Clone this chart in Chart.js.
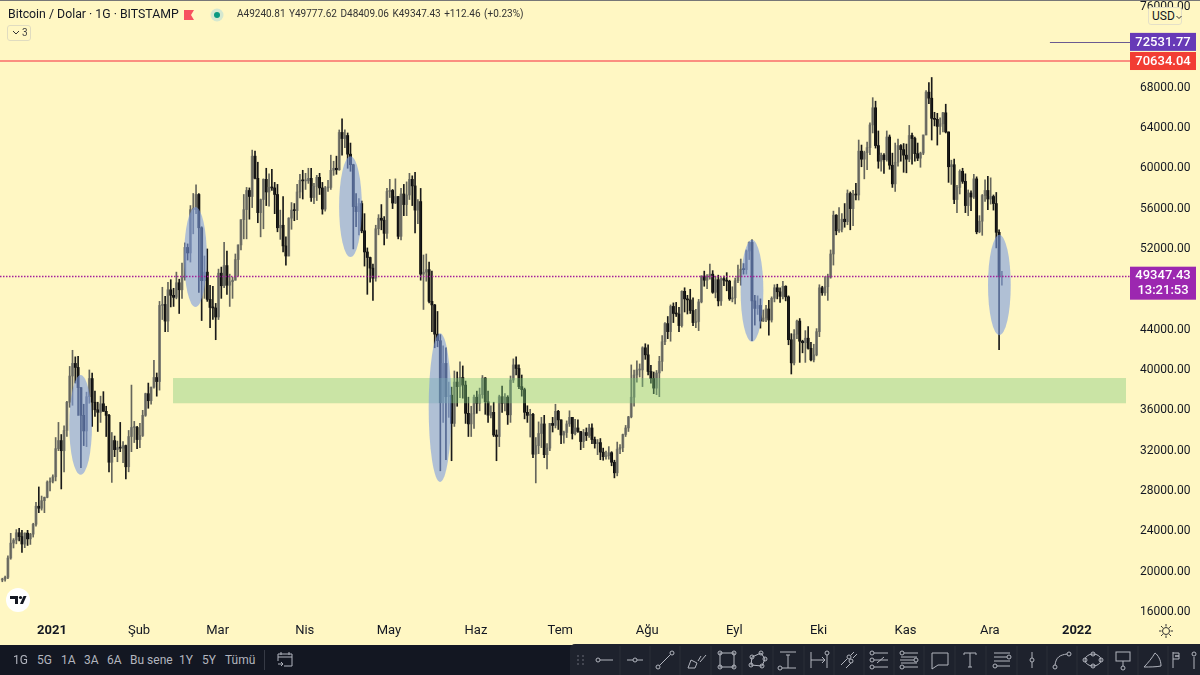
<!DOCTYPE html>
<html lang="tr">

<head>
    <meta charset="UTF-8">
    <title>Bitcoin / Dolar</title>
    <script src="https://cdn.jsdelivr.net/npm/chart.js@4/dist/chart.umd.js"></script>
    <style>
        * { margin: 0; padding: 0; box-sizing: border-box; }
        body { width: 1200px; height: 675px; overflow: hidden; background: #fff7c3; position: relative; font-family: Roboto, sans-serif; color: #131722; }
        #myChart { position: absolute; left: 0; top: 0; }
        .abs { position: absolute; white-space: nowrap; }
        #topline { left: 0; top: 0; width: 1200px; height: 1px; background: #777; }
        #bottom { left: 0; top: 645px; width: 1200px; height: 30px; background: #131722; }
        #tools { left: 570px; top: 644px; width: 630px; height: 31px; background: #1e222d; border-radius: 5px 0 0 0; }
        .range { top: 653px; font-size: 12px; color: #b2b5be; line-height: 14px; }
    </style>
</head>

<body>
    <canvas id="myChart" width="1200" height="645"></canvas>
    <div class="abs" id="topline"></div>

    <div class="abs" style="left:8px;top:6px;font-size:12.3px;line-height:16px">Bitcoin / Dolar · 1G · BITSTAMP</div>
    <svg class="abs" style="left:184px;top:8px" width="44" height="14">
        <path d="M0 2h10l-3 5 3 5H0z" fill="#f7525f" />
        <circle cx="33" cy="7" r="6.5" fill="#d5e8d0" /><circle cx="33" cy="7" r="3" fill="#089981" />
    </svg>
    <div class="abs" style="left:237px;top:7px;font-size:10px;line-height:14px;color:#333;word-spacing:1px">A49240.81 Y49777.62 D48409.06 K49347.43 +112.46 (+0.23%)</div>
    <div class="abs" style="left:7px;top:25px;width:24px;height:16px;border:1px solid #e0dcc0;border-radius:3px;font-size:10px;line-height:14px;padding-left:14px;color:#444">3
        <svg class="abs" style="left:4px;top:4px" width="8" height="6"><path d="M1 1l3 3 3-3" fill="none" stroke="#333" /></svg>
    </div>
    <div class="abs" style="left:1148px;top:7px;width:34px;height:18px;background:#fff7c3;border:1px solid #e4e0c8;border-radius:3px;font-size:12px;line-height:16px;padding-left:3px">USD<svg style="margin-left:1px" width="6" height="5"><path d="M0.5 1l2.5 2.5 2.5-2.5" fill="none" stroke="#333" /></svg></div>

    <svg class="abs" style="left:6px;top:588px" width="24" height="24">
        <circle cx="12" cy="12" r="12" fill="#fff" />
        <path d="M4 8h8v8H9v-5H4z M17.5 8h3l-3.5 8h-3z" fill="#131722" /><circle cx="14.5" cy="9.5" r="1.6" fill="#131722" />
    </svg>
    <svg class="abs" style="left:1158px;top:623px" width="16" height="16" fill="none" stroke="#333">
        <circle cx="8" cy="8" r="3.5" /><path d="M8 1v2.5M8 12.5V15M1 8h2.5M12.5 8H15M3 3l1.8 1.8M11.2 11.2L13 13M3 13l1.8-1.8M11.2 4.8L13 3" />
    </svg>

    <div class="abs" id="bottom"></div>
    <div class="abs" id="tools"></div>
    <div class="abs range" style="left:13px">1G</div>
    <div class="abs range" style="left:37px">5G</div>
    <div class="abs range" style="left:61px">1A</div>
    <div class="abs range" style="left:84px">3A</div>
    <div class="abs range" style="left:107px">6A</div>
    <div class="abs range" style="left:130px">Bu sene</div>
    <div class="abs range" style="left:179px">1Y</div>
    <div class="abs range" style="left:202px">5Y</div>
    <div class="abs range" style="left:225px">Tümü</div>
    <svg class="abs" id="toolIcons" style="left:0;top:645px" width="1200" height="30" fill="none" stroke="#b2b5be" stroke-width="1"></svg>

    <script>
        // first candle is 14 Dec 2020, x axis counts days from 1 Jan 2021
        // (candles sit about 0.3 day right of the month labels in the picture)
        var firstDay = -17.7;

        var opens = [
            19170, 19270, 19440, 21350, 22830, 23130, 23860, 23480, 22740, 23820, 23250, 23720, 24700, 26490, 26290, 27040, 27370, 28880,
            28970, 29400, 32200, 33000, 31990, 34000, 36800, 39400, 40650, 40250, 38250, 35500, 33950, 37350, 39150, 36800, 36050, 35800, 36650, 35900, 35500, 30850, 33000, 32100, 32300, 32250, 32500, 30400, 33400, 34300, 34300,
            33100, 33500, 35500, 37650, 36950, 38300, 39250, 38850, 46400, 46500, 44850, 47950, 47400, 47200, 48650, 47950, 49150, 52150, 51600, 55900, 55900, 57400, 54100, 48850, 49700, 47000, 46200, 46150,
            45250, 49600, 48350, 50350, 48400, 48750, 48900, 50950, 52400, 54900, 55900, 57800, 57200, 61200, 59000, 55600, 56900, 58900, 57650, 58100, 58050, 57400, 54100, 54350, 52300, 51300, 55050, 55850, 55800, 57650, 58800,
            58750, 58750, 59000, 57100, 58200, 59100, 58050, 55950, 58050, 58100, 59800, 60000, 59850, 63550, 62950, 63250, 61400, 60350, 56200, 55700, 56500, 53800, 51700, 51150, 50100, 49100, 54000, 55050, 54850, 53550,
            57700, 57800, 56550, 57200, 53250, 57450, 56400, 57350, 58900, 58250, 55850, 56700, 49500, 49700, 49950, 46800, 46450, 43550, 42900, 36750, 40650, 37350, 37500, 34700, 38800, 38350, 39250, 38500, 35700, 34650, 35650,
            37300, 36700, 37550, 39200, 36850, 35520, 35800, 33550, 33400, 37350, 36700, 37300, 35550, 39000, 40500, 40150, 38350, 38050, 35800, 35500, 35600, 31650, 32500, 33700, 34650, 31600, 32250, 34700, 34500, 35900,
            35050, 33550, 33800, 34650, 35300, 33700, 34250, 33900, 32900, 33800, 33500, 34250, 33100, 32700, 32800, 31850, 31400, 31500, 31800, 30850, 29800, 32150, 32300, 33600, 34250, 35350, 37300, 39500, 40000, 40000, 42200,
            41500, 39850, 39150, 38200, 39700, 40850, 42800, 44600, 43800, 46300, 45600, 45550, 44400, 47800, 47050, 46950, 45900, 44700, 44800, 46750, 49300, 48900, 49300, 49500, 47700, 48950, 46850, 49050, 48900, 48800, 47050,
            47150, 48850, 49300, 50000, 49950, 51800, 52650, 46850, 46100, 46400, 44850, 45150, 46050, 44950, 47100, 48150, 47750, 47300, 48300, 47250, 43000, 40700, 43550, 44850, 42850, 42700, 43150, 42150, 41000, 41500,
            43800, 48150, 47650, 48250, 49200, 51500, 55350, 53800, 53950, 54950, 54700, 57500, 56000, 57400, 57350, 61700, 60900, 61550, 62050, 64300, 66000, 62250, 60700, 61300, 60850, 63100, 60300, 58450, 60600, 62250, 61850,
            61300, 60900, 63250, 62950, 61450, 61000, 61500, 63300, 67550, 66950, 64950, 64850, 64150, 64400, 65500, 63600, 60150, 60350, 56900, 58100, 59700, 58700, 56300, 57550, 57150, 58950, 53700, 54750, 57300, 57800,
            56950, 57200, 56500, 53650, 49240
        ];
        var highs = [
            19350, 19570, 21560, 23800, 23280, 24170, 24300, 24100, 23850, 24100, 23800, 24800, 26870, 28400, 27500, 27400, 29000, 29300,
            29600, 33300, 34800, 33600, 34450, 36900, 40350, 41950, 41300, 41350, 38250, 36600, 37800, 40000, 39700, 37900, 36800, 37400, 37850, 36400, 35600, 33800, 33450, 32950, 34800, 32900, 32550, 34000, 38500, 34900, 34400,
            34700, 36000, 37700, 38700, 38300, 40950, 39700, 46800, 48200, 47300, 48700, 48950, 48100, 49700, 49000, 50600, 52600, 52500, 56300, 57500, 58350, 57500, 54200, 51300, 52000, 48400, 48300, 46600,
            50000, 50200, 52650, 51800, 49500, 49200, 51500, 52400, 54900, 57400, 58100, 58050, 61800, 61700, 60600, 56950, 58950, 60000, 59450, 59900, 58600, 58400, 55850, 57200, 53200, 55100, 56600, 56500, 58400, 59400, 59800,
            59500, 60000, 60000, 58500, 59300, 59500, 58600, 58200, 58800, 61300, 60700, 61200, 63800, 64900, 63800, 63500, 62500, 60400, 57500, 57000, 56750, 55500, 52100, 51200, 50500, 54350, 55400, 56400, 55200, 58000,
            58900, 57900, 58950, 57200, 58000, 58400, 58650, 59500, 59250, 59600, 56900, 58000, 51400, 51500, 50700, 49800, 46500, 45800, 43500, 42400, 42200, 38800, 38300, 39900, 39800, 40800, 40400, 38900, 37300, 36400, 37500,
            37900, 38200, 39450, 39250, 37900, 36450, 36800, 34050, 37500, 38400, 37650, 37450, 39400, 41100, 41300, 40500, 39500, 38200, 36450, 36100, 35700, 33300, 34850, 35300, 35500, 32700, 34700, 35300, 36600, 36000,
            35050, 33950, 34950, 35950, 35300, 35100, 35050, 33900, 34100, 34250, 34600, 34650, 33350, 33100, 33200, 32250, 31950, 32400, 31900, 31050, 32850, 32600, 33650, 34500, 35400, 40500, 40000, 40900, 40600, 42300, 42600,
            42500, 40450, 39800, 39950, 41350, 43400, 44700, 45300, 46450, 46650, 46700, 46200, 47850, 48150, 47400, 48000, 47150, 46000, 47000, 49350, 49800, 49450, 50500, 49850, 49300, 49400, 49150, 49300, 49650, 48900, 48250,
            49100, 50400, 51000, 50550, 51900, 52700, 52900, 47400, 47350, 47050, 45950, 46400, 46900, 47250, 48450, 48500, 48150, 48800, 48350, 47350, 43600, 44000, 44950, 45100, 42950, 43900, 44300, 42750, 42550, 44100,
            48450, 48300, 49250, 49500, 51900, 55750, 55400, 56100, 55500, 56500, 57850, 57650, 57800, 58500, 62800, 62300, 61700, 62600, 64500, 67000, 66650, 63700, 61500, 61450, 63700, 63300, 61500, 62500, 62900, 62350, 62450,
            62400, 64250, 63500, 63100, 62500, 61600, 63300, 67700, 68500, 69000, 65550, 65450, 65000, 65550, 66350, 63600, 60800, 60900, 58300, 59850, 60000, 59450, 57850, 57750, 59400, 59150, 55300, 57400, 58850, 59200,
            59050, 57350, 57600, 53900, 49780
        ];
        var lows = [
            19000, 19050, 19300, 21230, 22350, 22760, 23060, 21900, 22380, 22600, 22700, 23430, 24500, 25850, 26100, 25850, 27320, 28000,
            28800, 29000, 32000, 28200, 29900, 33400, 36300, 36500, 38700, 35500, 30300, 32500, 32400, 36700, 34400, 35400, 33900, 34800, 35900, 33400, 29900, 28850, 31400, 30900, 31900, 30800, 29200, 29900, 31900, 32800, 32200,
            32300, 33400, 35400, 36200, 36600, 38200, 37400, 38000, 45000, 43800, 43800, 46250, 46300, 47050, 45600, 47100, 48900, 50900, 50700, 53500, 55500, 47700, 44900, 47100, 46800, 44200, 45000, 43000,
            45000, 47100, 48150, 47500, 46300, 47100, 48900, 49300, 51900, 53000, 53000, 54950, 56100, 58950, 54600, 53200, 54000, 56300, 56250, 57800, 55500, 53700, 52950, 51700, 50400, 51300, 53950, 54800, 54900, 57050, 56950,
            57900, 58500, 56700, 56500, 56800, 57400, 55450, 55750, 57700, 57900, 59300, 59400, 59800, 61300, 62050, 60000, 59700, 52000, 54200, 53400, 53600, 50300, 47500, 48700, 46900, 48800, 53400, 53900, 52400, 53050,
            57100, 56000, 56500, 53000, 52900, 55300, 55300, 56900, 56300, 53600, 54500, 48900, 46000, 48800, 46650, 43800, 42200, 42300, 30000, 34800, 31100, 35300, 31000, 34400, 36400, 37250, 37200, 34700, 33400, 33400, 34200,
            35700, 35950, 37200, 35600, 34800, 35250, 33400, 31000, 32400, 35800, 35950, 34600, 34800, 38750, 39500, 38150, 37400, 35150, 34800, 33350, 31300, 28800, 31700, 32300, 31300, 30200, 32000, 33850, 34250, 34100,
            32700, 32750, 33300, 34400, 33150, 33550, 33800, 32100, 32300, 33000, 33300, 32700, 32250, 31600, 31100, 31050, 31150, 31150, 30500, 29300, 29500, 31700, 31900, 33400, 33900, 35250, 36400, 38800, 39300, 38350, 41050,
            39500, 38700, 37650, 37550, 37350, 39900, 42500, 43100, 42850, 44700, 45300, 43800, 44250, 45750, 45550, 45600, 44400, 44200, 43900, 46650, 48300, 48050, 49000, 47600, 47150, 46350, 46400, 48350, 47850, 46900, 46750,
            46550, 48650, 48400, 49500, 49500, 50950, 42900, 44450, 45500, 44150, 44800, 44800, 43450, 44750, 46750, 47050, 46700, 47050, 46850, 42500, 39600, 40500, 43100, 40750, 41700, 40750, 42050, 40900, 40800, 41400,
            43300, 47400, 47400, 46900, 49100, 50400, 53400, 53650, 53700, 54150, 54400, 53900, 54300, 56850, 56850, 60150, 58950, 59850, 61350, 63500, 62000, 60000, 59700, 59500, 60700, 59900, 58100, 57700, 60200, 60700, 59600,
            59550, 60650, 60400, 60700, 60750, 60100, 61350, 63300, 66400, 62800, 64200, 62300, 63350, 63600, 63500, 58600, 58400, 56500, 55600, 57450, 58500, 55600, 55300, 55800, 57000, 53500, 53600, 53350, 56700, 55900,
            56450, 55850, 52100, 42000, 48410
        ];
        var closes = [
            19270, 19440, 21350, 22830, 23130, 23860, 23480, 22740, 23820, 23250, 23720, 24700, 26490, 26290, 27040, 27370, 28880, 28970,
            29400, 32200, 33000, 31990, 34000, 36800, 39400, 40650, 40250, 38250, 35500, 33950, 37350, 39150, 36800, 36050, 35800, 36650, 35900, 35500, 30850, 33000, 32100, 32300, 32250, 32500, 30400, 33400, 34300, 34300, 33100,
            33500, 35500, 37650, 36950, 38300, 39250, 38850, 46400, 46500, 44850, 47950, 47400, 47200, 48650, 47950, 49150, 52150, 51600, 55900, 55900, 57400, 54100, 48850, 49700, 47000, 46200, 46150, 45250,
            49600, 48350, 50350, 48400, 48750, 48900, 50950, 52400, 54900, 55900, 57800, 57200, 61200, 59000, 55600, 56900, 58900, 57650, 58100, 58050, 57400, 54100, 54350, 52300, 51300, 55050, 55850, 55800, 57650, 58800, 58750,
            58750, 59000, 57100, 58200, 59100, 58050, 55950, 58050, 58100, 59800, 60000, 59850, 63550, 62950, 63250, 61400, 60350, 56200, 55700, 56500, 53800, 51700, 51150, 50100, 49100, 54000, 55050, 54850, 53550, 57700,
            57800, 56550, 57200, 53250, 57450, 56400, 57350, 58900, 58250, 55850, 56700, 49500, 49700, 49950, 46800, 46450, 43550, 42900, 36750, 40650, 37350, 37500, 34700, 38800, 38350, 39250, 38500, 35700, 34650, 35650, 37300,
            36700, 37550, 39200, 36850, 35520, 35800, 33550, 33400, 37350, 36700, 37300, 35550, 39000, 40500, 40150, 38350, 38050, 35800, 35500, 35600, 31650, 32500, 33700, 34650, 31600, 32250, 34700, 34500, 35900, 35050,
            33550, 33800, 34650, 35300, 33700, 34250, 33900, 32900, 33800, 33500, 34250, 33100, 32700, 32800, 31850, 31400, 31500, 31800, 30850, 29800, 32150, 32300, 33600, 34250, 35350, 37300, 39500, 40000, 40000, 42200, 41500,
            39850, 39150, 38200, 39700, 40850, 42800, 44600, 43800, 46300, 45600, 45550, 44400, 47800, 47050, 46950, 45900, 44700, 44800, 46750, 49300, 48900, 49300, 49500, 47700, 48950, 46850, 49050, 48900, 48800, 47050, 47150,
            48850, 49300, 50000, 49950, 51800, 52650, 46850, 46100, 46400, 44850, 45150, 46050, 44950, 47100, 48150, 47750, 47300, 48300, 47250, 43000, 40700, 43550, 44850, 42850, 42700, 43150, 42150, 41000, 41500, 43800,
            48150, 47650, 48250, 49200, 51500, 55350, 53800, 53950, 54950, 54700, 57500, 56000, 57400, 57350, 61700, 60900, 61550, 62050, 64300, 66000, 62250, 60700, 61300, 60850, 63100, 60300, 58450, 60600, 62250, 61850, 61300,
            60900, 63250, 62950, 61450, 61000, 61500, 63300, 67550, 66950, 64950, 64850, 64150, 64400, 65500, 63600, 60150, 60350, 56900, 58100, 59700, 58700, 56300, 57550, 57150, 58950, 53700, 54750, 57300, 57800, 56950,
            57200, 56500, 53650, 49240, 49347
        ];

        var monthDays = [0, 31, 59, 90, 120, 151, 181, 212, 243, 273, 304, 334, 365];
        var monthLabels = ['2021', 'Şub', 'Mar', 'Nis', 'May', 'Haz', 'Tem', 'Ağu', 'Eyl', 'Eki', 'Kas', 'Ara', '2022'];
        var priceTicks = [16000, 20000, 24000, 28000, 32000, 36000, 40000, 44000, 48000, 52000, 56000, 60000, 64000, 68000, 72000, 76000];

        var lastPrice = 49347.43;
        var lastPriceTimer = '13:21:53';
        var levelPrices = [72531.77, 70634.04];
        var levelStartDays = [355.4, -18.6];

        // green zone, drawn in data coordinates
        var zoneDays = [43.1, 382.5];
        var zonePrices = [39200, 36700];

        // blue ellipses over the wicks
        var ellipseDays = [10.2, 51.1, 106.3, 138.2, 249.3, 337.4];
        var ellipseTops = [39500, 56150, 61200, 43650, 52900, 53400];
        var ellipseBottoms = [29600, 46250, 51200, 28900, 42800, 43450];
        var ellipseHalfDays = 4.05;

        var wicks = opens.map((o, i) => ({ x: firstDay + i, y: [lows[i], highs[i]] }));
        var bodies = opens.map((o, i) => ({ x: firstDay + i, y: [o, closes[i]] }));
        var isUp = opens.map((o, i) => closes[i] >= o);

        var drawings = {
            id: 'drawings',
            afterDatasetsDraw(chart) {
                const ctx = chart.ctx, x = chart.scales.x, y = chart.scales.y;
                const right = chart.chartArea.right;
                ctx.save();

                ctx.fillStyle = 'rgba(122,200,120,0.4)';
                ctx.fillRect(x.getPixelForValue(zoneDays[0]), y.getPixelForValue(zonePrices[0]),
                    x.getPixelForValue(zoneDays[1]) - x.getPixelForValue(zoneDays[0]),
                    y.getPixelForValue(zonePrices[1]) - y.getPixelForValue(zonePrices[0]));

                ctx.fillStyle = 'rgba(123,155,225,0.6)';
                ellipseDays.forEach((d, i) => {
                    const top = y.getPixelForValue(ellipseTops[i]), bottom = y.getPixelForValue(ellipseBottoms[i]);
                    const rx = x.getPixelForValue(d + ellipseHalfDays) - x.getPixelForValue(d);
                    ctx.beginPath();
                    ctx.ellipse(x.getPixelForValue(d), (top + bottom) / 2, rx, (bottom - top) / 2, 0, 0, Math.PI * 2);
                    ctx.fill();
                });

                // level lines
                const lineColors = ['#6a5a90', '#fb8f80'];
                const lineWidths = [1, 2];
                levelPrices.forEach((p, i) => {
                    const py = Math.round(y.getPixelForValue(p)) + (lineWidths[i] === 1 ? 0.5 : 0);
                    ctx.strokeStyle = lineColors[i];
                    ctx.lineWidth = lineWidths[i];
                    ctx.beginPath();
                    ctx.moveTo(x.getPixelForValue(levelStartDays[i]), py);
                    ctx.lineTo(right + 4, py);
                    ctx.stroke();
                });

                // last price dotted line
                const ly = Math.round(y.getPixelForValue(lastPrice)) + 0.5;
                ctx.strokeStyle = '#a3209c';
                ctx.lineWidth = 1.4;
                ctx.setLineDash([1.5, 1.5]);
                ctx.beginPath();
                ctx.moveTo(0, ly);
                ctx.lineTo(right + 4, ly);
                ctx.stroke();
                ctx.restore();
            },
            afterDraw(chart) {
                // price tags sit on the axis and hide the ticks under them
                const ctx = chart.ctx, y = chart.scales.y;
                const left = chart.chartArea.right + 4;
                const tagColors = ['#673ab7', '#f23d33'];
                ctx.save();
                ctx.font = '500 13px Roboto';
                ctx.textAlign = 'center';
                ctx.textBaseline = 'middle';
                levelPrices.forEach((p, i) => {
                    const py = y.getPixelForValue(p);
                    ctx.fillStyle = tagColors[i];
                    ctx.fillRect(left, py - 9, 66, 18);
                    ctx.fillStyle = '#fff';
                    ctx.fillText(p.toFixed(2), left + 33, py + 0.5);
                });
                const ly = y.getPixelForValue(lastPrice);
                ctx.fillStyle = '#9c27b0';
                ctx.fillRect(left, ly - 9, 66, 33);
                ctx.fillStyle = '#fff';
                ctx.fillText(lastPrice.toFixed(2), left + 33, ly + 0.5);
                ctx.fillText(lastPriceTimer, left + 33, ly + 15);
                ctx.restore();
            }
        };

        new Chart(document.getElementById('myChart').getContext('2d'), {
            type: 'bar',
            data: {
                datasets: [{
                    data: wicks,
                    grouped: false,
                    barThickness: 1,
                    backgroundColor: isUp.map(u => u ? '#66665c' : '#1a1a1a')
                }, {
                    data: bodies,
                    grouped: false,
                    barThickness: 2.2,
                    minBarLength: 1,
                    backgroundColor: isUp.map(u => u ? '#8f8f84' : '#000000')
                }]
            },
            options: {
                responsive: false,
                animation: false,
                layout: { padding: { top: 2 } },
                plugins: { legend: { display: false }, tooltip: { enabled: false } },
                scales: {
                    x: {
                        type: 'linear',
                        offset: false,
                        min: -18.52,
                        max: 382.5,
                        grid: { display: false, offset: false, drawTicks: false },
                        border: { display: false },
                        afterBuildTicks: axis => { axis.ticks = monthDays.map(v => ({ value: v })); },
                        afterFit: axis => { axis.height = 25; axis.paddingLeft = 0; axis.paddingRight = 0; },
                        ticks: {
                            autoSkip: false,
                            maxRotation: 0,
                            padding: 3,
                            color: '#131722',
                            font: c => ({ family: 'Roboto', size: 13, weight: c.index === 0 || c.index === 12 ? '700' : '400' }),
                            callback: (v, i) => monthLabels[i]
                        }
                    },
                    y: {
                        position: 'right',
                        min: 15207,
                        max: 76486,
                        grid: { display: false, drawTicks: false },
                        border: { display: false },
                        afterBuildTicks: axis => { axis.ticks = priceTicks.map(v => ({ value: v })); },
                        afterFit: axis => { axis.width = 74; axis.paddingTop = 0; axis.paddingBottom = 0; },
                        ticks: {
                            autoSkip: false,
                            padding: 14,
                            color: '#131722',
                            font: { family: 'Roboto', size: 12 },
                            callback: v => v.toFixed(2)
                        }
                    }
                }
            },
            plugins: [drawings]
        });

        // drawing toolbar icons, one small path per tool centre
        var toolX = [605, 635, 665, 697, 727, 757, 788, 819, 849, 879, 909, 940, 970, 1002, 1032, 1062, 1093, 1123, 1153, 1176, 1194];
        var toolPaths = [
            '<circle cx="-7" cy="0" r="2"/><path d="M-5 0H8"/>',
            '<circle cx="0" cy="0" r="2"/><path d="M-8 0h6M2 0h6"/>',
            '<circle cx="-7" cy="7" r="2"/><circle cx="7" cy="-7" r="2"/><path d="M-5.5 5.5L5.5-5.5"/>',
            '<path d="M-9 8l3-8 6 3-2 5zM1 1l3-5M3 2l6-7"/>',
            '<rect x="-7" y="-7" width="14" height="14"/><circle cx="-7" cy="-7" r="2"/><circle cx="7" cy="-7" r="2"/><circle cx="-7" cy="7" r="2"/><circle cx="7" cy="7" r="2"/>',
            '<path d="M-6 5l1-8 9-4 4 6-3 7z"/><circle cx="-6" cy="5" r="2"/><circle cx="-5" cy="-3" r="2"/><circle cx="4" cy="-7" r="2"/><circle cx="8" cy="-1" r="2"/><circle cx="5" cy="6" r="2"/>',
            '<path d="M-8-8H8M0-5V8M-2-5h4M-6 8H8"/><circle cx="-8" cy="8" r="2"/>',
            '<path d="M-8-8V8M-8 0H6M3-3l3 3-3 3M8-5V8"/><circle cx="8" cy="-7" r="2"/>',
            '<path d="M-8 5L-2-1M2-5L5-8M-3 8l5-5M4-2l4-4"/><circle cx="0" cy="-3" r="2"/><circle cx="2" cy="1" r="2"/>',
            '<path d="M-5-7H9M-5 0H9M-5 7H9M-2 3L5-3" /><circle cx="-7" cy="-7" r="2"/><circle cx="-7" cy="0" r="2"/><circle cx="-7" cy="7" r="2"/>',
            '<path d="M-5-7H9M-9 0H5M-5 7H9M-8-3H8M-8 3H8"/><circle cx="-7" cy="-7" r="2"/><circle cx="7" cy="0" r="2"/><circle cx="-7" cy="7" r="2"/>',
            '<path d="M-8-7H8V5H-2l-6 4z"/>',
            '<path d="M-6-5V-7H6V-5M0-7V7M-2 7H2"/>',
            '<path d="M-8-7H8M-8-3H5M-8 1H8M-5 6H8"/><circle cx="7" cy="-3" r="2"/><circle cx="-7" cy="6" r="2"/>',
            '<path d="M0-8V-2M0 2V8"/><circle cx="0" cy="0" r="2"/>',
            '<circle cx="-7" cy="7" r="2"/><circle cx="7" cy="-6" r="2"/><path d="M-7 5C-6-3-2-5 5-6"/>',
            '<ellipse cx="0" cy="0" rx="8" ry="6"/><circle cx="-8" cy="0" r="2"/><circle cx="8" cy="0" r="2"/><circle cx="0" cy="-6" r="2"/><circle cx="0" cy="6" r="2"/>',
            '<rect x="-7" y="-8" width="14" height="9"/><path d="M0 1V6"/><circle cx="0" cy="8" r="2"/>',
            '<path d="M-9 7C-3 7 3 7 8 6 8 0 5-5 2-7-1-2-5 3-9 7z"/>',
            '<path d="M-3-8V8M-3-7H3V-4H-1M-1-4H3V-1H-3"/>',
            '<path d="M0-3V9"/><circle cx="0" cy="-6" r="2"/>'
        ];
        var icons = '<g stroke="#2a2e39"><path d="M620 1V30M650 1V30M680 1V30M711 1V30M742 1V30M773 1V30M804 1V30M834 1V30M864 1V30M894 1V30M924 1V30M955 1V30M986 1V30M1017 1V30M1047 1V30M1077 1V30M1108 1V30M1138 1V30M1168 1V30"/></g>';
        icons += '<g fill="#50535e" stroke="none"><circle cx="578" cy="11" r="1"/><circle cx="583" cy="11" r="1"/><circle cx="578" cy="15" r="1"/><circle cx="583" cy="15" r="1"/><circle cx="578" cy="19" r="1"/><circle cx="583" cy="19" r="1"/></g>';
        icons += '<path stroke="#363a45" d="M264.5 5V25"/><g transform="translate(285 15)"><path d="M-7-3H7M-7-6H7V6H-1M-7-6V1M-4-8V-5M4-8V-5M-7 4H-2M-4 2l2 2-2 2"/></g>';
        toolX.forEach((tx, i) => { icons += '<g transform="translate(' + tx + ' 15)">' + toolPaths[i] + '</g>'; });
        document.getElementById('toolIcons').innerHTML = icons;
    </script>

</body>

</html>
